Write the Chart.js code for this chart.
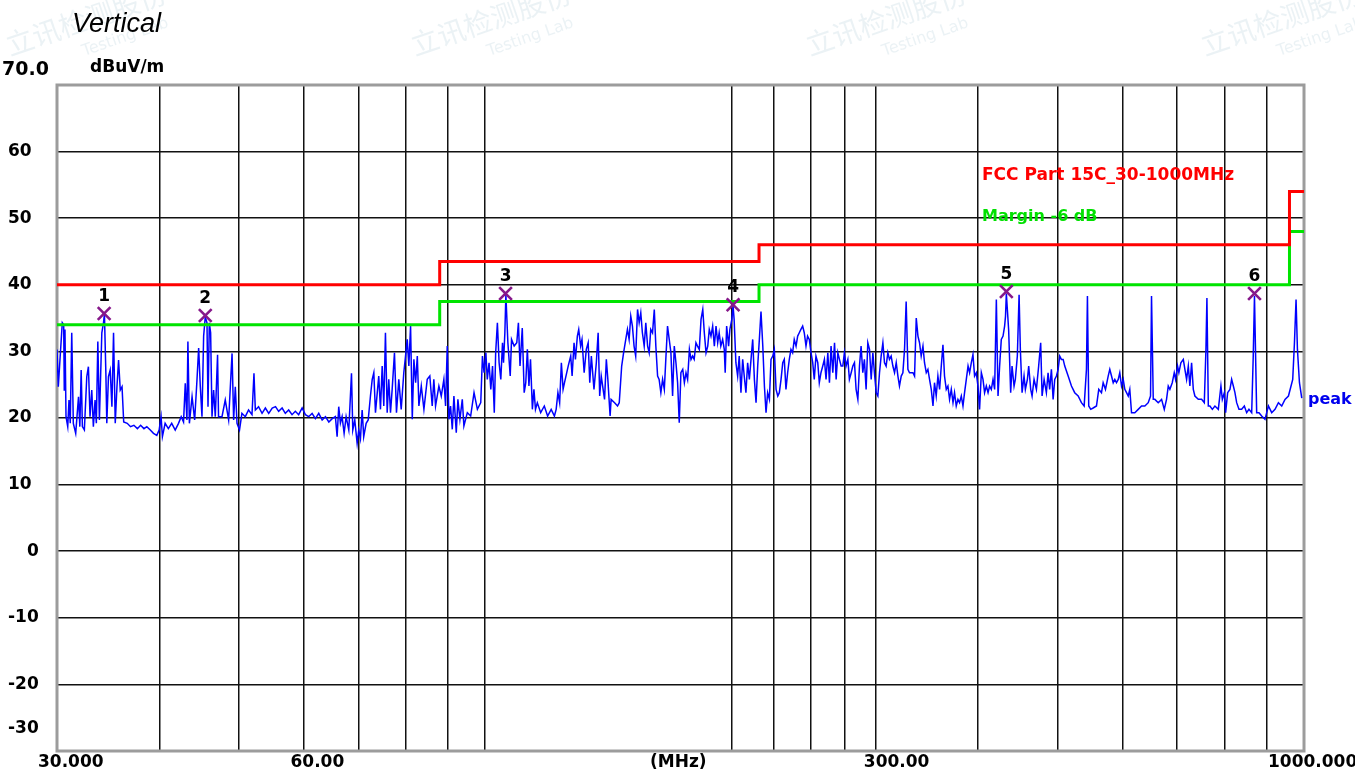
<!DOCTYPE html>
<html>
<head>
<meta charset="utf-8">
<title>Vertical - radiated emission scan</title>
<script src="https://cdn.jsdelivr.net/npm/chart.js@4.4.1/dist/chart.umd.min.js"></script>
<style>
  html, body { margin: 0; padding: 0; background: #fff; }
  #wrap { width: 1355px; height: 772px; }
</style>
</head>
<body>
<div id="wrap"><canvas id="scan" width="1355" height="772"></canvas></div>
<script>
'use strict';

/* =====================================================
   DATA
   ===================================================== */
// peak trace, MHz
const freqMHz = [
  30.00,30.11,30.25,30.45,30.57,30.62,30.68,30.77,30.92,31.03,
  31.14,31.27,31.41,31.62,31.87,31.99,32.11,32.22,32.40,32.62,
  32.77,32.92,33.08,33.23,33.39,33.51,33.65,33.80,34.03,34.19,
  34.28,34.42,34.51,34.67,34.84,35.01,35.17,35.34,35.51,35.67,
  35.84,36.02,36.19,36.55,36.89,37.24,37.61,37.95,38.31,38.62,
  39.00,39.35,39.72,39.98,40.20,40.35,40.66,41.03,41.42,41.83,
  42.22,42.54,42.82,43.03,43.23,43.35,43.53,43.86,44.18,44.47,
  44.68,44.89,45.10,45.31,45.52,45.74,45.87,46.04,46.21,46.39,
  46.60,46.82,47.12,47.25,47.71,48.15,48.61,49.08,49.30,49.53,
  49.77,50.12,50.46,50.94,51.41,51.91,52.20,52.40,52.88,53.40,
  53.90,54.41,54.95,55.46,55.95,56.50,57.01,57.55,58.10,58.64,
  59.19,59.77,60.32,60.88,61.47,62.04,62.63,63.23,63.82,64.43,
  65.05,65.63,65.95,66.25,66.56,66.88,67.26,67.64,68.15,68.67,
  68.92,69.31,69.77,70.08,70.42,70.76,71.07,71.56,71.97,
  72.43,72.79,73.12,73.46,74.14,74.50,74.86,75.20,75.55,75.92,
  76.26,76.63,76.99,77.49,77.93,78.44,78.97,79.55,79.94,80.32,
  80.69,81.08,81.47,81.84,82.24,82.63,83.00,83.56,84.18,84.97,
  85.59,86.17,86.56,86.98,87.80,88.39,89.04,89.47,89.89,90.31,
  90.73,91.17,91.59,92.20,92.62,93.15,93.77,94.20,95.11,96.01,
  96.92,97.84,98.77,99.24,99.70,100.2,100.6,101.1,101.6,102.1,
  102.6,103.0,103.5,104.0,104.5,105.0,105.3,105.7,106.0,106.6,
  107.3,107.7,108.5,109.3,109.8,110.3,111.0,111.6,112.1,112.6,
  113.1,113.6,114.2,114.7,115.2,115.8,116.9,118.1,119.2,120.4,
  121.5,122.1,122.7,123.3,123.9,124.5,125.0,126.3,127.2,127.7,
  128.4,128.9,129.6,130.1,130.8,131.3,132.1,132.9,133.6,134.2,
  134.8,135.8,136.7,137.4,138.0,138.6,139.9,140.6,141.2,142.1,
  142.5,143.9,145.1,145.8,146.8,147.6,148.5,149.2,149.9,150.6,
  151.3,152.0,152.7,153.5,154.2,154.9,155.6,156.4,157.1,157.9,
  158.6,159.3,160.1,160.9,161.6,162.4,163.1,163.9,164.7,165.5,
  166.2,167.0,167.8,168.6,169.4,170.2,171.0,171.8,172.6,173.4,
  174.3,175.1,175.9,176.7,177.6,178.4,179.2,180.0,180.9,181.7,
  182.6,183.5,184.4,185.2,186.1,187.0,187.8,188.7,189.6,190.5,
  191.4,192.3,193.1,194.0,195.0,195.9,196.4,197.2,198.3,199.0,
  200.1,200.8,201.4,202.4,203.4,204.3,205.3,206.3,207.2,208.2,
  209.2,210.2,211.2,212.2,213.2,214.2,215.2,216.2,217.2,218.3,
  219.3,220.3,221.3,222.4,223.4,224.5,225.5,226.6,227.7,228.7,
  229.8,230.9,231.9,233.0,234.1,235.2,236.3,237.4,238.5,239.7,
  240.8,241.9,243.0,244.2,245.3,246.5,247.6,248.8,250.0,251.2,
  252.3,253.5,254.8,255.9,257.1,258.4,259.6,260.8,262.1,263.3,
  264.5,265.8,267.1,268.3,269.6,270.8,272.1,273.4,274.6,275.9,
  277.3,278.5,279.9,281.2,282.5,283.8,285.2,286.5,287.8,289.2,
  290.5,291.9,293.3,294.7,296.1,297.5,298.8,300.3,301.7,303.1,
  304.5,306.0,307.4,308.8,310.3,311.7,313.2,314.7,316.2,317.7,
  319.2,320.6,322.2,323.7,325.2,326.7,328.3,329.8,331.4,333.0,
  334.5,336.1,337.7,339.2,340.8,342.5,344.0,345.7,347.3,348.9,
  350.6,352.3,353.8,355.5,357.2,358.9,360.6,362.3,363.9,365.7,
  367.4,369.1,370.9,372.7,374.3,376.1,377.9,379.6,381.5,383.3,
  385.0,386.9,388.8,390.5,392.4,394.2,396.0,397.9,399.8,401.6,
  403.6,405.5,407.3,409.3,411.3,413.1,415.1,417.1,419.0,421.0,
  423.0,424.9,426.9,429.0,430.9,432.0,433.0,435.8,438.3,440.0,
  442.5,444.1,446.6,448.8,450.4,452.6,455.1,456.8,459.4,461.1,
  463.7,465.5,468.1,471.2,474.2,476.9,478.8,481.5,484.6,486.9,
  489.1,491.5,493.9,496.1,498.5,500.9,503.1,505.5,508.0,510.3,
  515.2,520.0,524.8,529.9,534.8,538.9,542.4,543.9,545.9,549.0,
  552.7,557.9,561.5,565.8,568.5,572.2,576.6,579.2,582.0,584.8,
  587.4,590.2,593.1,595.7,598.6,601.5,604.2,607.1,610.0,612.7,
  615.7,621.4,627.4,633.3,639.2,645.3,649.5,651.3,654.5,657.4,
  663.7,670.0,675.1,679.4,682.7,685.8,690.4,694.3,696.9,700.8,
  703.4,707.4,712.2,715.4,718.8,722.3,725.5,729.0,732.5,735.8,
  742.9,749.8,755.5,759.0,761.1,764.1,767.5,772.8,778.4,785.9,
  791.7,794.8,799.3,802.2,806.8,812.0,815.9,819.8,823.5,827.5,
  832.9,839.2,845.6,851.1,856.6,863.2,867.0,870.0,875.4,881.1,
  887.8,896.1,900.4,904.8,913.2,921.7,930.6,939.3,948.0,957.2,
  964.2,968.8,973.5,977.9,981.7,987.3,993.7
];
// peak trace, dBuV/m
const peakLevel = [
  30.3,24.7,28.7,34.3,34.0,24.2,33.3,20.2,18.7,22.7,
  19.2,32.8,19.2,17.7,23.2,18.7,27.2,18.7,18.2,26.2,
  27.7,20.2,24.2,18.7,22.7,19.2,31.5,19.7,32.8,34.3,
  35.6,26.7,19.2,26.2,27.2,21.7,32.8,19.2,24.7,28.7,
  24.2,24.7,19.4,19.2,18.7,18.9,18.4,18.9,18.4,18.7,
  18.2,17.7,17.4,18.2,20.2,17.2,19.2,18.4,19.2,18.2,
  19.2,20.2,19.4,25.2,19.7,31.5,19.2,23.2,19.7,25.7,
  30.5,24.7,20.2,32.3,35.2,34.3,21.7,34.3,32.8,20.2,
  24.2,20.2,29.5,20.2,20.2,22.7,19.7,29.7,19.7,24.7,
  19.2,18.2,20.7,20.2,21.2,20.5,26.7,21.2,21.7,20.7,
  21.5,20.7,21.5,21.7,21.0,21.5,20.7,21.2,20.5,21.0,
  20.5,21.5,20.5,20.2,20.7,19.9,20.7,19.7,20.2,19.4,
  19.9,20.2,17.2,21.7,19.2,20.2,17.7,20.2,18.2,26.7,
  18.2,19.7,16.2,18.2,16.9,21.2,17.2,19.2,19.7,
  23.3,25.8,26.8,20.8,26.3,21.3,27.8,21.8,32.8,20.8,
  25.8,20.8,24.3,29.8,20.8,25.8,21.3,26.8,29.3,31.8,
  27.8,33.8,19.8,28.8,25.3,29.3,21.8,24.8,21.3,25.8,
  26.3,21.8,25.8,21.8,24.8,23.3,25.8,21.8,30.8,19.8,
  21.8,18.3,23.3,17.8,22.8,19.8,22.8,18.8,20.8,20.3,
  23.8,21.3,22.3,29.3,26.8,29.8,25.8,28.3,24.3,27.8,
  20.8,29.8,34.3,28.3,25.8,31.3,28.3,32.8,38.5,31.3,
  26.3,31.8,30.8,31.3,34.3,27.8,33.5,23.8,25.3,30.3,
  24.8,28.8,21.3,24.3,21.3,22.3,20.8,21.8,20.3,21.3,
  20.3,21.3,23.8,22.3,28.3,24.3,25.3,27.8,29.3,26.3,
  31.3,28.8,32.3,33.3,30.8,31.8,26.8,30.3,31.3,25.3,
  29.3,24.3,28.3,32.8,23.3,26.3,22.8,28.8,25.8,20.3,
  22.8,22.3,21.8,22.3,27.8,29.8,31.8,33.3,31.8,35.3,
  33.8,30.8,29.3,36.3,34.3,35.8,32.8,30.8,34.3,30.8,
  29.8,33.3,32.8,36.3,30.8,26.3,25.8,23.8,25.8,24.3,
  28.8,33.8,31.8,29.8,23.3,30.8,28.3,25.3,19.3,26.8,
  27.3,25.3,26.8,25.8,30.3,28.8,29.3,28.8,31.3,30.8,
  30.3,34.8,36.3,32.8,29.8,30.8,33.3,32.3,33.8,30.8,
  33.8,31.3,32.8,30.8,31.8,30.3,26.8,33.8,30.8,33.3,
  34.8,36.8,34.8,28.3,26.3,29.3,23.8,28.8,26.3,23.8,
  28.3,25.8,28.8,31.8,25.8,22.3,27.8,31.8,36.0,30.8,
  24.8,20.8,23.8,22.8,28.8,29.3,30.3,24.3,23.3,23.8,
  25.8,28.3,28.8,24.3,26.8,28.8,30.3,29.8,31.8,30.8,
  32.3,32.8,33.3,33.8,32.8,30.8,32.3,31.8,29.8,28.3,
  25.8,29.3,28.3,25.3,26.8,27.8,28.8,25.8,29.8,25.3,
  30.8,26.8,31.3,25.8,29.8,28.8,27.8,27.8,29.8,27.8,
  28.8,25.8,26.8,27.8,28.3,24.3,22.8,27.8,30.8,26.8,
  28.8,24.3,31.3,30.3,25.8,29.8,26.8,23.8,23.3,26.8,
  29.3,31.3,28.3,27.8,29.8,28.8,29.3,27.8,26.8,28.3,
  26.3,24.8,26.3,26.8,30.3,37.5,27.3,26.8,26.8,26.8,
  26.3,35.0,32.3,31.3,29.3,30.8,28.3,26.8,27.3,25.8,
  24.3,21.8,25.3,23.3,26.3,24.3,27.8,31.0,26.3,24.3,
  24.8,22.8,24.3,22.3,23.8,21.8,22.8,22.3,23.3,21.8,
  23.8,25.8,27.8,26.8,28.3,29.5,26.3,26.8,24.8,21.3,
  26.8,25.8,23.8,24.8,23.8,24.8,24.3,25.8,24.3,37.8,
  23.3,27.8,31.8,32.3,33.8,35.3,38.7,33.3,23.8,27.8,
  24.8,25.8,29.3,38.5,30.3,23.8,26.3,24.3,25.8,27.8,
  24.3,23.3,25.8,24.3,27.8,31.3,23.3,25.8,23.8,26.8,
  24.3,27.3,22.8,25.8,26.3,27.3,29.3,28.8,28.8,27.8,
  26.3,24.8,23.8,23.3,22.3,21.8,27.3,38.3,21.8,21.3,
  21.5,21.8,24.3,23.8,25.3,24.3,26.3,27.3,26.3,25.3,
  25.8,25.3,25.8,26.8,24.8,25.8,24.3,23.8,23.3,24.3,
  20.8,20.8,21.3,21.8,21.8,22.3,23.3,38.3,22.8,22.8,
  22.3,22.8,21.3,22.8,24.8,24.3,25.3,26.8,25.8,27.8,
  26.8,28.3,28.8,27.3,25.8,27.8,24.8,28.3,24.3,23.3,
  22.8,22.8,22.3,30.3,38.0,21.8,21.8,21.3,21.8,21.3,
  24.8,22.8,23.8,20.8,23.8,24.3,25.8,24.8,23.8,22.3,
  21.3,21.3,21.8,20.8,21.3,20.8,29.3,38.3,20.8,20.8,
  20.3,19.8,20.8,21.8,20.8,21.3,22.3,21.8,22.8,23.3,
  24.8,25.8,31.3,37.8,30.3,25.3,23.0
];

// FCC Part 15C class B limit and the -6 dB margin line
const limitFreq   = [30, 88, 88, 216, 216, 960, 960, 1000];
const limitLevel  = [40, 40, 43.5, 43.5, 46, 46, 54, 54];
const marginLevel = [34, 34, 37.5, 37.5, 40, 40, 48, 48];

// marked peaks
const markerFreq  = [34.25, 45.52, 105.9, 200.8, 433.0, 870.0];
const markerLevel = [35.7, 35.4, 38.7, 37.0, 39.0, 38.7];
const markerNames = ['1', '2', '3', '4', '5', '6'];

// axes
const gridFreqs   = [30, 40, 50, 60, 70, 80, 90, 100, 200, 225, 250, 275, 300, 400, 500, 600, 700, 800, 900, 1000];
const xTickValues = [30, 60, 300, 1000];
const xTickLabels = ['30.000', '60.00', '300.00', '1000.000'];
const yTickValues = [70, 60, 50, 40, 30, 20, 10, 0, -10, -20, -30];
const yTickLabels = ['70.0', '60', '50', '40', '30', '20', '10', '0', '-10', '-20', '-30'];

/* =====================================================
   HELPERS
   ===================================================== */
function toPoints(xs, ys) {
  const n = Math.min(xs.length, ys.length);
  const out = [];
  for (let i = 0; i < n; i++) out.push({ x: xs[i], y: ys[i] });
  return out;
}

const LABEL_FONT = 'bold 17px "DejaVu Sans", sans-serif';
// left-edge shift of each x label from its tick, px
const xLabelShift = [-19, -13, -12, -36];

/* =====================================================
   DECORATION PLUGIN (frame, texts, watermark)
   ===================================================== */
const emcDecor = {
  id: 'emcDecor',

  beforeDraw(chart) {
    const ctx = chart.ctx;
    ctx.save();
    ctx.fillStyle = 'rgba(120,170,185,0.15)';
    [0, 405, 800, 1195].forEach((ox) => {
      ctx.save();
      ctx.translate(ox + 10, 56);
      ctx.rotate(-0.33);
      ctx.font = '28px "Noto Sans CJK SC", sans-serif';
      ctx.fillText('立讯检测股份', 0, 0);
      ctx.font = '16px "DejaVu Sans", sans-serif';
      ctx.fillText('Testing Lab', 70, 24);
      ctx.restore();
    });
    ctx.restore();
  },

  beforeDatasetsDraw(chart) {
    const { ctx, chartArea: a } = chart;
    ctx.save();
    ctx.strokeStyle = '#9c9c9c';
    ctx.lineWidth = 3;
    ctx.strokeRect(a.left, a.top, a.right - a.left, a.bottom - a.top);
    ctx.restore();
  },

  afterDraw(chart) {
    const { ctx, scales: { x, y } } = chart;
    ctx.save();
    ctx.textBaseline = 'middle';
    ctx.fillStyle = '#000';

    // y tick labels
    yTickValues.forEach((v, i) => {
      let py = y.getPixelForValue(v);
      let px = 8;
      if (i === 0) { py -= 15; px = 2; }
      if (i === yTickValues.length - 1) py -= 22;
      if (yTickLabels[i] === '0') px = 27;
      ctx.font = i === 0 ? 'bold 19px "DejaVu Sans", sans-serif' : LABEL_FONT;
      ctx.fillText(yTickLabels[i], px, py);
    });

    // x tick labels
    ctx.font = LABEL_FONT;
    const labelY = chart.chartArea.bottom + 12;
    xTickValues.forEach((v, i) => {
      ctx.fillText(xTickLabels[i], x.getPixelForValue(v) + xLabelShift[i], labelY);
    });
    ctx.fillText('(MHz)', 650, labelY);

    // unit + title
    ctx.fillText('dBuV/m', 90, 68);
    ctx.font = 'italic 27px "Liberation Sans", Arial, sans-serif';
    ctx.textBaseline = 'alphabetic';
    ctx.fillText('Vertical', 72, 32);

    // limit captions
    ctx.textBaseline = 'middle';
    ctx.font = LABEL_FONT;
    ctx.fillStyle = '#ff0000';
    ctx.fillText('FCC Part 15C_30-1000MHz', 982, 176);
    ctx.font = 'bold 16px "DejaVu Sans", sans-serif';
    ctx.fillStyle = '#00e000';
    ctx.fillText('Margin -6 dB', 982, 217);
    ctx.fillStyle = '#0000ee';
    ctx.fillText('peak', 1308, 400);

    // marker numbers
    ctx.font = LABEL_FONT;
    ctx.fillStyle = '#000';
    ctx.textAlign = 'center';
    chart.getDatasetMeta(0).data.forEach((pt, i) => {
      ctx.fillText(markerNames[i], pt.x, pt.y - 17);
    });
    ctx.restore();
  },
};

/* =====================================================
   CHART
   ===================================================== */
new Chart(document.getElementById('scan'), {
  type: 'line',
  data: {
    datasets: [
      {
        label: 'markers',
        type: 'scatter',
        data: toPoints(markerFreq, markerLevel),
        pointStyle: 'crossRot',
        pointRadius: 9,
        borderColor: '#86188a',
        borderWidth: 2.6,
        showLine: false,
        order: 0,
      },
      {
        label: 'FCC Part 15C_30-1000MHz',
        data: toPoints(limitFreq, limitLevel),
        borderColor: '#ff0000',
        borderWidth: 3,
        pointRadius: 0,
        order: 1,
      },
      {
        label: 'Margin -6 dB',
        data: toPoints(limitFreq, marginLevel),
        borderColor: '#00e400',
        borderWidth: 3,
        pointRadius: 0,
        order: 2,
      },
      {
        label: 'peak',
        data: toPoints(freqMHz, peakLevel),
        borderColor: '#0000ff',
        borderWidth: 1.5,
        pointRadius: 0,
        tension: 0,
        order: 3,
      },
    ],
  },
  options: {
    responsive: false,
    animation: false,
    events: [],
    layout: { padding: { left: 57, right: 51, top: 85, bottom: 21 } },
    plugins: {
      legend: { display: false },
      tooltip: { enabled: false },
    },
    scales: {
      x: {
        type: 'logarithmic',
        min: 30,
        max: 1000,
        afterBuildTicks: (scale) => { scale.ticks = gridFreqs.map((v) => ({ value: v })); },
        ticks: { display: false },
        grid: { color: '#111', lineWidth: 1.5, drawTicks: false },
        border: { display: false },
      },
      y: {
        type: 'linear',
        min: -30,
        max: 70,
        afterBuildTicks: (scale) => { scale.ticks = yTickValues.map((v) => ({ value: v })); },
        ticks: { display: false },
        grid: { color: '#111', lineWidth: 1.5, drawTicks: false },
        border: { display: false },
      },
    },
  },
  plugins: [emcDecor],
});
</script>
</body>
</html>
